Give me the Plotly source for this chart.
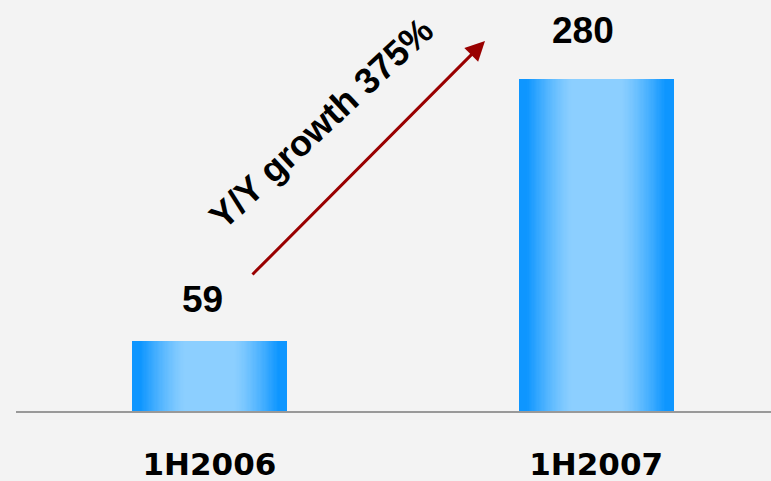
import plotly.graph_objects as go

# Half-year revenue figures
categories = ["1H2006", "1H2007"]
values = [59, 280]
growth_label = "Y/Y growth 375%"

# Styling
BG = "#f3f3f3"
DARK = (14, 150, 255)
LIGHT = (140, 207, 255)
BAR_WIDTH = 0.4
N_LAYERS = 48


def shade(d):
    """Colour at normalised distance d (0 = bar centre, 1 = bar edge)."""
    t = (d - 0.32) / (0.9 - 0.32)
    t = max(0.0, min(1.0, t))
    t = t ** 1.3
    r, g, b = (round(LIGHT[k] * (1 - t) + DARK[k] * t) for k in range(3))
    return f"rgb({r},{g},{b})"


fig = go.Figure()

# Horizontal gradient built from overlaid bars of decreasing width
for i in range(N_LAYERS):
    d = 1.0 - i * (0.75 / (N_LAYERS - 1))
    fig.add_trace(go.Bar(
        x=categories, y=values,
        width=BAR_WIDTH * d,
        marker=dict(color=shade(d), line=dict(width=0)),
        opacity=1, hoverinfo="skip", showlegend=False,
    ))

# Value labels above the bars
label_shift = [(-7, 19), (-13, 26)]
for cat, val, (dx, dy) in zip(categories, values, label_shift):
    fig.add_annotation(
        x=cat, y=val, text=f"<b>{val}</b>", showarrow=False,
        xanchor="center", yanchor="bottom", xshift=dx, yshift=dy,
        font=dict(family="Liberation Sans, Arial", size=37, color="#000000"),
    )

# Growth arrow
fig.add_annotation(
    xref="paper", yref="paper", x=(485 - 16) / 755, y=(411 - 41) / 411,
    ax=-234, ay=235, text="", showarrow=True,
    arrowhead=2, arrowsize=1.3, arrowwidth=3, arrowcolor="#990000",
)

# Rotated growth caption
fig.add_annotation(
    xref="paper", yref="paper", x=(321 - 16) / 755, y=(411 - 124) / 411,
    text=f"<b>{growth_label}</b>", showarrow=False, textangle=-43,
    xanchor="center", yanchor="middle",
    font=dict(family="Liberation Sans, Arial", size=36, color="#000000"),
)

fig.update_layout(
    width=771, height=481,
    margin=dict(l=16, r=0, t=0, b=70),
    paper_bgcolor=BG, plot_bgcolor=BG,
    barmode="overlay", bargap=0,
    showlegend=False,
    xaxis=dict(
        type="category", range=[-0.5, 1.452],
        showline=True, linecolor="#999999", linewidth=2,
        showgrid=False, zeroline=False, ticks="",
        tickfont=dict(family="DejaVu Sans", size=31, color="#000000", weight="bold"),
        ticklabelstandoff=25,
    ),
    yaxis=dict(
        range=[0, 346.6], visible=False, showgrid=False, zeroline=False,
    ),
)

fig.write_html("out.html")
